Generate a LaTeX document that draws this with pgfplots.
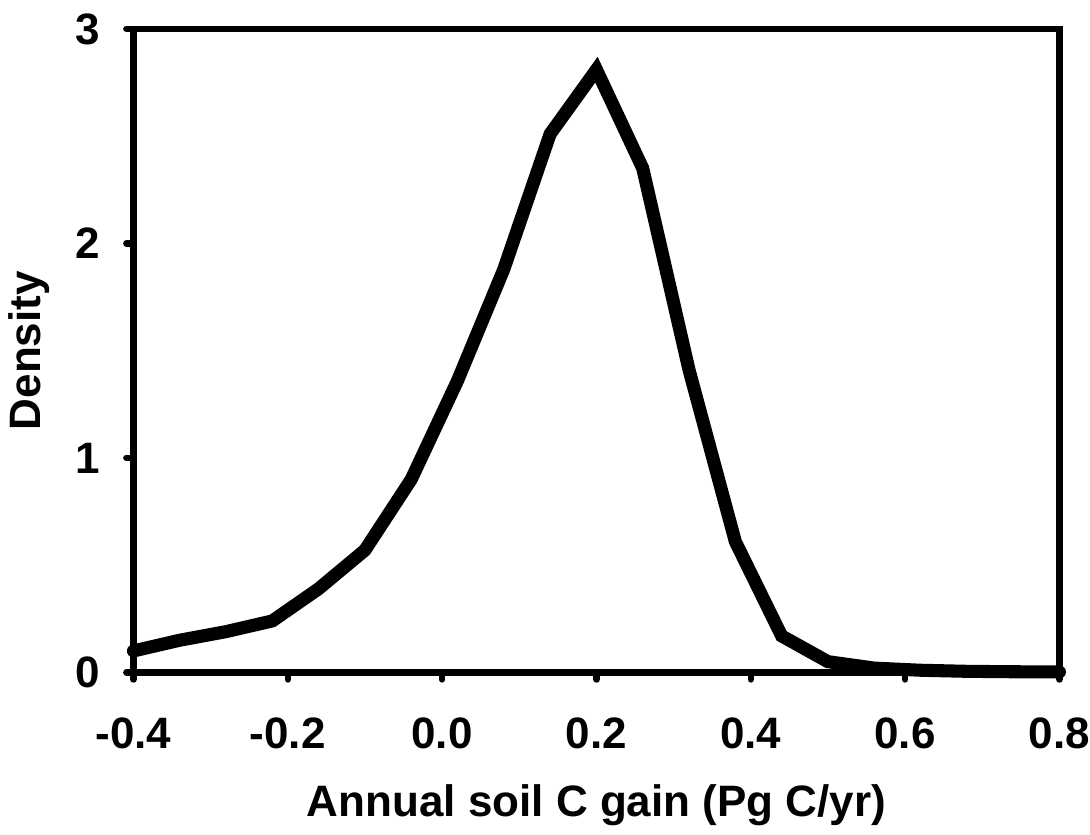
\documentclass[border=0pt]{standalone}
\usepackage{fontspec}
\setmainfont{Liberation Sans}
\usepackage{pgfplots}
\pgfplotsset{compat=1.18}

\begin{document}
\begin{tikzpicture}[font=\fontsize{17.5}{21}\selectfont\bfseries]
\begin{axis}[
scale only axis,
width=368.4pt, height=256pt,
xmin=-0.4, xmax=0.8, ymin=0, ymax=3,
xtick={-0.4,-0.2,0,0.2,0.4,0.6,0.8},
xticklabels={-0.4,-0.2,0.0,0.2,0.4,0.6,0.8},
ytick={0,1,2,3},
yticklabels={0,1,2,3},
tick align=outside,
xtick pos=left, ytick pos=left,
major tick length=2.8pt,
every tick/.style={line width=2.6pt, line cap=round},
axis line style={line width=2.6pt},
xticklabel style={inner sep=0pt, anchor=north, yshift=-15pt},
yticklabel style={inner sep=0pt, anchor=east, xshift=-10.4pt},
xlabel={Annual soil C gain (Pg C/yr)},
ylabel={Density},
xlabel style={at={(axis description cs:0.5,0)}, anchor=center, yshift=-52.8pt},
ylabel style={at={(axis description cs:0,0.5)}, anchor=center, yshift=41.6pt},
clip=false,
]
\addplot[line width=5.2pt, black, line cap=round] table {
X Y
-0.40 0.10
-0.34 0.15
-0.28 0.19
-0.22 0.24
-0.16 0.39
-0.10 0.57
-0.04 0.90
0.02 1.36
0.08 1.88
0.14 2.51
0.20 2.81
0.26 2.35
0.32 1.41
0.38 0.61
0.44 0.17
0.50 0.05
0.56 0.02
0.62 0.01
0.68 0.005
0.74 0.003
0.80 0.002
};
% white space above the top tick label
\path (rel axis cs:0,1) ++(0pt,11.5pt);
\end{axis}
\end{tikzpicture}
\end{document}
